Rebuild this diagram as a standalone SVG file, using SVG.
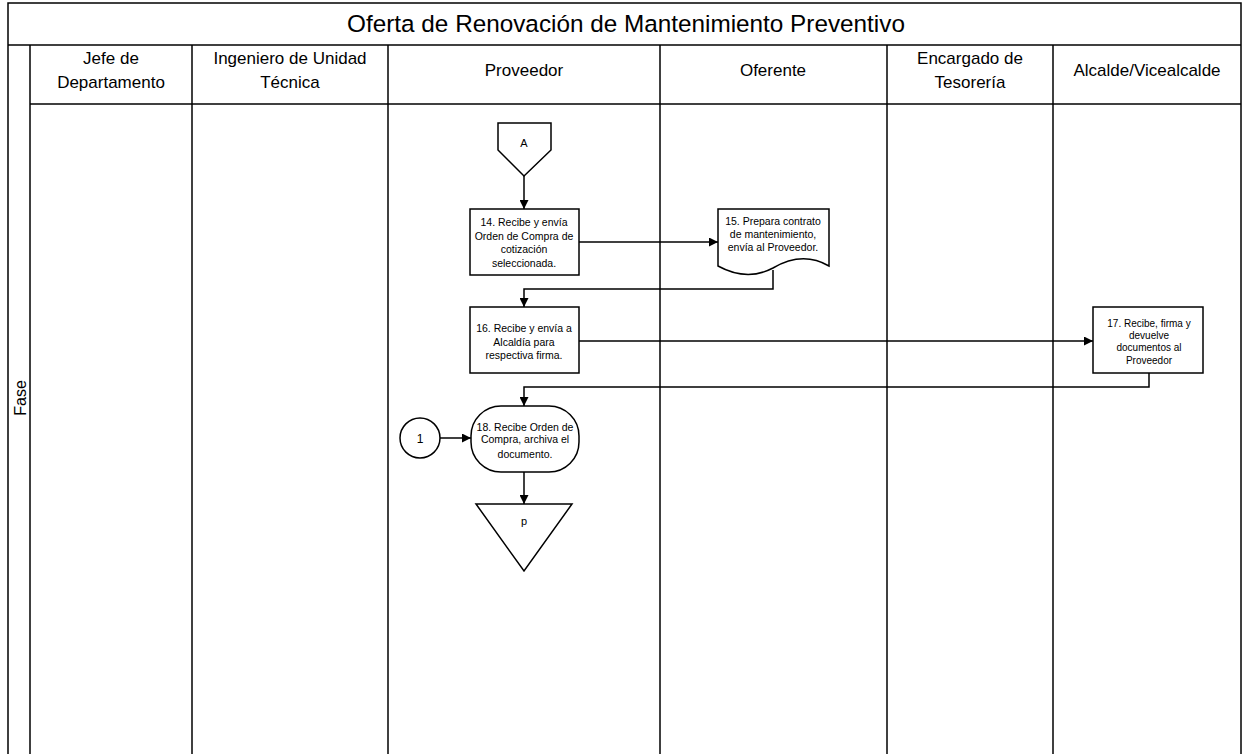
<svg xmlns="http://www.w3.org/2000/svg" width="1245" height="754" viewBox="0 0 1245 754">
<style>
.ln{stroke:#000;stroke-width:1.5;fill:none}
.shp{stroke:#000;stroke-width:1.5;fill:#fff}
.hd{font-family:"Liberation Sans",Arial,sans-serif;font-size:17px;fill:#000;text-anchor:middle}
.tt{font-family:"Liberation Sans",Arial,sans-serif;font-size:24.3px;fill:#000;text-anchor:middle}
.nt{font-family:"Liberation Sans",Arial,sans-serif;font-size:10.5px;fill:#000;text-anchor:middle}
.cn{stroke:#000;stroke-width:1.5;fill:none;marker-end:url(#ah)}
</style>
<defs>
<marker id="ah" viewBox="0 0 10 10" refX="10" refY="5" markerWidth="9" markerHeight="9" markerUnits="userSpaceOnUse" orient="auto"><path d="M0,0 L10,5 L0,10 z" fill="#000"/></marker>
</defs>
<rect width="1245" height="754" fill="#fff"/>
<g id="pool">
<rect x="8" y="3" width="1233" height="760" class="ln"/>
<line x1="8" y1="45" x2="1241" y2="45" class="ln"/>
<line x1="30" y1="104" x2="1241" y2="104" class="ln"/>
<line x1="30" y1="45" x2="30" y2="754" class="ln"/>
<line x1="192" y1="45" x2="192" y2="754" class="ln"/>
<line x1="388" y1="45" x2="388" y2="754" class="ln"/>
<line x1="660" y1="45" x2="660" y2="754" class="ln"/>
<line x1="887" y1="45" x2="887" y2="754" class="ln"/>
<line x1="1053" y1="45" x2="1053" y2="754" class="ln"/>
<text x="626" y="32" class="tt">Oferta de Renovación de Mantenimiento Preventivo</text>
<text x="111" y="64" class="hd">Jefe de</text>
<text x="111" y="88" class="hd">Departamento</text>
<text x="290" y="64" class="hd">Ingeniero de Unidad</text>
<text x="290" y="88" class="hd">Técnica</text>
<text x="524" y="76" class="hd">Proveedor</text>
<text x="773" y="76" class="hd">Oferente</text>
<text x="970" y="64" class="hd">Encargado de</text>
<text x="970" y="88" class="hd">Tesorería</text>
<text x="1147" y="76" class="hd">Alcalde/Vicealcalde</text>
<text x="0" y="0" class="hd" style="font-size:16px" transform="translate(26,398) rotate(-90)">Fase</text>
</g>
<g id="connectors">
<line x1="524" y1="176" x2="524" y2="209" class="cn"/>
<line x1="579" y1="242" x2="718" y2="242" class="cn"/>
<polyline points="773,270 773,289 524,289 524,307" class="cn"/>
<line x1="579" y1="341" x2="1093" y2="341" class="cn"/>
<polyline points="1149,373 1149,387 524,387 524,406" class="cn"/>
<line x1="440" y1="438" x2="471" y2="438" class="cn"/>
<line x1="524" y1="472" x2="524" y2="504" class="cn"/>
</g>
<g id="nodeA">
<polygon points="498,123 551,123 551,150 524,176 498,150" class="shp"/>
<text x="524" y="147" class="nt" style="font-size:11px">A</text>
</g>
<g id="node14">
<rect x="470" y="209" width="109" height="66" class="shp"/>
<text x="524" y="226" class="nt">14. Recibe y envía</text>
<text x="524" y="240" class="nt">Orden de Compra de</text>
<text x="524" y="253" class="nt">cotización</text>
<text x="524" y="267" class="nt">seleccionada.</text>
</g>
<g id="node15">
<path d="M718,209 H829 V266 C810,255 790,258 773,268 C758,276 740,278 718,266 Z" class="shp"/>
<text x="773" y="225" class="nt">15. Prepara contrato</text>
<text x="773" y="238" class="nt">de mantenimiento,</text>
<text x="773" y="251" class="nt">envía al Proveedor.</text>
</g>
<g id="node16">
<rect x="470" y="307" width="109" height="66" class="shp"/>
<text x="524" y="332" class="nt">16. Recibe y envía a</text>
<text x="524" y="346" class="nt">Alcaldía para</text>
<text x="524" y="359" class="nt">respectiva firma.</text>
</g>
<g id="node17">
<rect x="1093" y="307" width="110" height="66" class="shp"/>
<text x="1149" y="327" class="nt" style="font-size:10px">17. Recibe, firma y</text>
<text x="1149" y="339" class="nt" style="font-size:10px">devuelve</text>
<text x="1149" y="351" class="nt" style="font-size:10px">documentos al</text>
<text x="1149" y="364" class="nt" style="font-size:10px">Proveedor</text>
</g>
<g id="node18">
<rect x="471" y="406" width="108" height="66" rx="30" ry="30" class="shp"/>
<text x="525" y="431" class="nt">18. Recibe Orden de</text>
<text x="525" y="443" class="nt">Compra, archiva el</text>
<text x="525" y="458" class="nt">documento.</text>
</g>
<g id="node1">
<circle cx="420" cy="438" r="20" class="shp"/>
<text x="420" y="443" class="nt" style="font-size:12px">1</text>
</g>
<g id="nodeP">
<polygon points="476,504 572,504 524,571" class="shp"/>
<text x="524" y="525" class="nt" style="font-size:11px">p</text>
</g>
</svg>
